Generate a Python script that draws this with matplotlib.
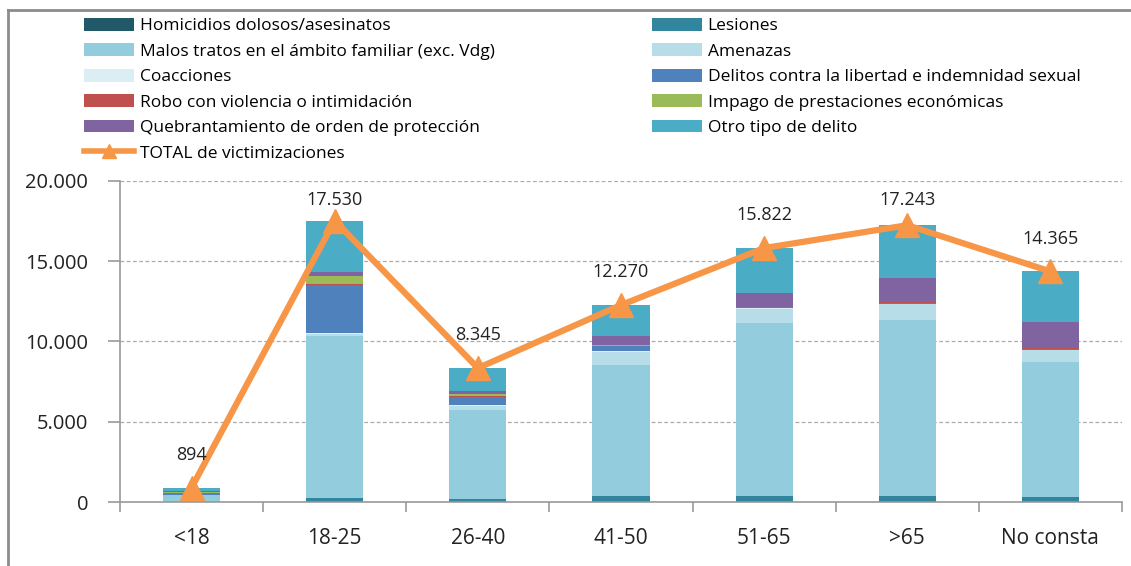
import matplotlib
matplotlib.use("Agg")
import matplotlib.pyplot as plt
import numpy as np
from matplotlib.patches import Patch
from matplotlib.lines import Line2D

plt.rcParams['font.family'] = ['Open Sans', 'DejaVu Sans']

categories = ["<18", "18-25", "26-40", "41-50", "51-65", ">65", "No consta"]

homicidios = [5, 20, 15, 20, 20, 20, 20]
lesiones = [20, 250, 200, 350, 350, 350, 270]
malos_tratos = [380, 10050, 5500, 8170, 10800, 10950, 8450]
amenazas = [40, 150, 280, 800, 850, 1000, 700]
coacciones = [10, 30, 60, 60, 40, 40, 40]
delitos_sexual = [110, 3050, 500, 300, 60, 30, 30]
robo = [10, 20, 40, 40, 20, 60, 60]
impago = [60, 480, 120, 20, 10, 10, 10]
quebrantamiento = [40, 260, 200, 600, 850, 1500, 1650]
otro = [219, 3220, 1430, 1910, 2822, 3283, 3135]
total = [894, 17530, 8345, 12270, 15822, 17243, 14365]
total_labels = ["894", "17.530", "8.345", "12.270", "15.822", "17.243", "14.365"]

series_names = [
    "Homicidios dolosos/asesinatos", "Lesiones",
    "Malos tratos en el ámbito familiar (exc. Vdg)", "Amenazas",
    "Coacciones", "Delitos contra la libertad e indemnidad sexual",
    "Robo con violencia o intimidación", "Impago de prestaciones económicas",
    "Quebrantamiento de orden de protección", "Otro tipo de delito",
]
series_values = [homicidios, lesiones, malos_tratos, amenazas, coacciones,
                 delitos_sexual, robo, impago, quebrantamiento, otro]
colors = ["#215968", "#31859C", "#93CDDD", "#B7DEE8", "#DAEEF3",
          "#4F81BD", "#C0504D", "#9BBB59", "#8064A2", "#4BACC6"]
total_color = "#F79646"
y_ticks = [0, 5000, 10000, 15000, 20000]
y_tick_labels = ["0", "5.000", "10.000", "15.000", "20.000"]

W, H = 1131, 566
fig = plt.figure(figsize=(W / 100, H / 100), dpi=100)
ax = fig.add_axes([120 / W, 1 - 502 / H, (1122 - 120) / W, (502 - 181) / H])

x = np.arange(len(categories))
bottom = np.zeros(len(categories))
handles = {}
for name, vals, c in zip(series_names, series_values, colors):
    v = np.array(vals, dtype=float)
    ax.bar(x, v, 0.4, bottom=bottom, color=c, edgecolor='none', zorder=2)
    bottom += v
    handles[name] = Patch(facecolor=c, edgecolor='none')

ax.plot(x, total, color=total_color, lw=4.5, marker='^', markersize=17,
        zorder=4, solid_joinstyle='miter')
for xi, v, lab in zip(x, total, total_labels):
    ax.text(xi, min(v + 2050, 18800), lab, ha='center', va='center',
            fontsize=13, color='#222222', zorder=5)

ax.set_xlim(-0.5, len(categories) - 0.5)
ax.set_ylim(0, 20000)
ax.set_yticks(y_ticks)
ax.set_yticklabels(y_tick_labels, fontsize=14.5)
ax.set_xticks(x)
ax.set_xticklabels(categories, fontsize=15)
ax.set_xticks(np.arange(len(categories) + 1) - 0.5, minor=True)
ax.tick_params(axis='x', which='major', length=0, pad=19, colors='#222222')
ax.tick_params(axis='x', which='minor', length=7, color='#999999', width=1.2)
ax.tick_params(axis='y', length=9, width=1.2, pad=14, colors='#222222')
ax.tick_params(axis='y', color='#999999')
ax.yaxis.grid(True, linestyle=(0, (3, 2)), color='#aaaaaa', lw=0.9, zorder=0)
ax.set_axisbelow(True)
for s in ['top', 'right']:
    ax.spines[s].set_visible(False)
for s in ['left', 'bottom']:
    ax.spines[s].set_color('#999999')
    ax.spines[s].set_linewidth(1.2)

# legends
col1 = [series_names[0], series_names[2], series_names[4], series_names[6], series_names[8]]
col2 = [series_names[1], series_names[3], series_names[5], series_names[7], series_names[9]]
h1 = [handles[n] for n in col1] + [Line2D([], [], color=total_color, lw=4, marker='^', markersize=10)]
l1 = col1 + ["TOTAL de victimizaciones"]
h2 = [handles[n] for n in col2]
leg_kw = dict(loc='upper left', frameon=False, fontsize=12.5, handlelength=2.9,
              handleheight=0.75, handletextpad=0.3, labelspacing=0.52, borderpad=0,
              borderaxespad=0)
fig.legend(h1, l1, bbox_to_anchor=(84 / W, 1 - 18 / H), **leg_kw)
fig.legend(h2, col2, bbox_to_anchor=(652 / W, 1 - 18 / H), **leg_kw)

# figure border
fig.add_artist(Line2D([8 / W, 8 / W], [0, 1 - 10 / H], color='#8c8c8c', lw=2, transform=fig.transFigure))
fig.add_artist(Line2D([8 / W, 1], [1 - 10 / H, 1 - 10 / H], color='#8c8c8c', lw=2, transform=fig.transFigure))

fig.savefig("out.png", dpi=100)
